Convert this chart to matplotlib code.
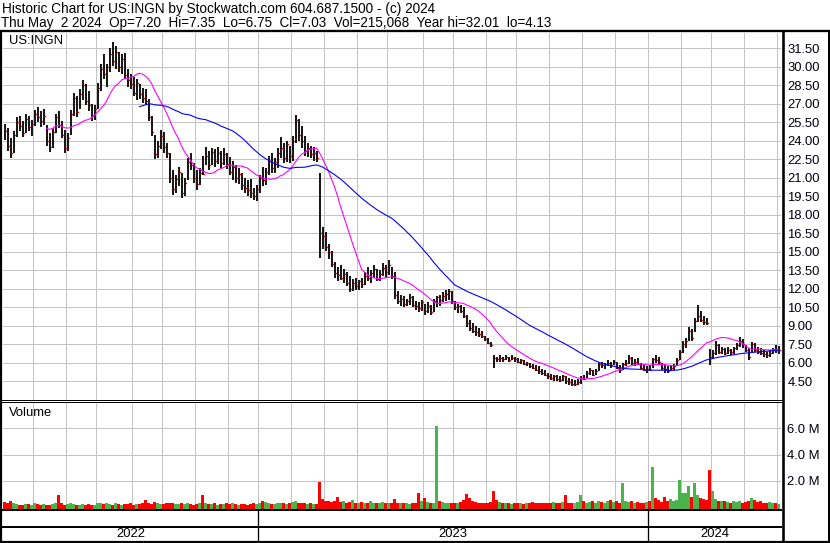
import matplotlib
matplotlib.use("Agg")
import matplotlib.pyplot as plt
import numpy as np
import pandas as pd
from matplotlib.lines import Line2D

plt.rcParams['font.family'] = ['Liberation Sans', 'DejaVu Sans']

W, H, DPI = 830, 543, 100

title_line1 = "Historic Chart for US:INGN by Stockwatch.com 604.687.1500 - (c) 2024"
title_line2 = "Thu May  2 2024  Op=7.20  Hi=7.35  Lo=6.75  Cl=7.03  Vol=215,068  Year hi=32.01  lo=4.13"
symbol = "US:INGN"
volume_label = "Volume"

# ---- data (one bar per ~trading period) ----
high = [
    25.4, 25.0, 24.2, 24.8, 25.9, 26.0, 25.6, 26.2, 26.0, 25.7,
    26.5, 26.7, 26.4, 26.6, 25.3, 24.6, 25.0, 26.2, 26.4, 25.6,
    24.9, 24.6, 26.5, 27.9, 27.6, 28.2, 28.9, 28.6, 28.0, 27.0,
    26.9, 28.7, 30.2, 31.0, 30.2, 31.5, 32.0, 31.7, 31.2, 31.0,
    31.1, 29.8, 29.4, 29.2, 29.0, 28.6, 28.3, 28.2, 27.4, 26.0,
    24.5, 24.0, 24.9, 24.7, 23.8, 23.0, 21.6, 21.2, 21.9, 21.4,
    21.0, 22.6, 23.0, 22.2, 21.6, 21.8, 22.8, 23.5, 23.2, 23.4,
    23.3, 23.5, 23.2, 23.4, 23.0, 22.7, 22.4, 22.0, 21.8, 21.4,
    21.0, 20.8, 20.9, 20.2, 20.4, 21.2, 21.9, 21.8, 22.8, 23.0,
    22.6, 23.4, 24.3, 23.8, 24.0, 23.6, 24.4, 26.1, 25.8, 25.2,
    24.4, 23.8, 23.6, 23.5, 23.2, 21.4, 17.0, 16.6, 15.6, 15.1,
    14.2, 13.8, 13.9, 13.6, 13.4, 13.0, 12.8, 12.9, 12.7, 12.9,
    13.4, 13.8, 13.5, 13.9, 13.6, 13.5, 14.1, 13.9, 14.3, 13.8,
    13.4, 11.8, 11.5, 11.4, 11.2, 11.6, 11.4, 11.0, 10.9, 11.1,
    10.8, 10.9, 10.7, 11.2, 11.4, 11.5, 11.7, 11.9, 12.0, 11.8,
    11.0, 10.8, 10.7, 10.5, 9.9, 9.5, 9.2, 9.0, 8.8, 8.6,
    8.2, 8.0, 7.7, 6.6, 6.5, 6.6, 6.5, 6.6, 6.5, 6.6,
    6.5, 6.4, 6.3, 6.2, 6.1, 6.0, 5.9, 5.8, 5.7, 5.5,
    5.4, 5.2, 5.1, 5.0, 5.0, 4.9, 5.0, 4.9, 4.8, 4.7,
    4.6, 4.7, 4.9, 5.0, 5.3, 5.6, 5.4, 5.5, 6.0, 6.1,
    6.0, 6.2, 6.1, 6.2, 6.1, 5.8, 6.0, 6.2, 6.6, 6.5,
    6.3, 6.4, 6.0, 5.8, 5.7, 5.8, 6.4, 6.6, 6.5, 6.0,
    5.8, 5.7, 5.8, 5.9, 6.4, 7.0, 7.8, 8.0, 8.9, 8.7,
    9.6, 10.7, 10.2, 9.8, 9.6, 7.1, 7.0, 7.8, 7.5, 7.3,
    7.2, 7.3, 7.1, 7.3, 7.6, 8.1, 7.9, 7.4, 7.2, 7.7,
    7.6, 7.3, 7.2, 7.0, 6.9, 7.0, 7.2, 7.4, 7.35,
]
low = [
    24.1, 23.2, 22.6, 23.0, 24.3, 24.8, 24.3, 24.6, 24.8, 24.4,
    25.2, 25.5, 25.1, 25.3, 23.6, 23.1, 23.4, 24.6, 25.0, 24.2,
    23.0, 23.2, 24.5, 26.0, 25.9, 26.6, 27.3, 26.9, 26.4, 25.6,
    25.7, 26.6, 28.0, 29.0, 28.4, 29.6, 30.1, 29.8, 29.6, 29.4,
    29.0, 28.4, 28.2, 27.6, 27.3, 27.4, 27.1, 26.9, 25.6, 24.4,
    22.5, 22.6, 23.3, 23.0, 22.6, 20.6, 19.6, 19.8, 20.3, 19.4,
    19.5, 20.8, 21.6, 20.6, 20.0, 20.4, 21.2, 22.0, 21.6, 22.0,
    21.9, 22.1, 21.8, 22.0, 21.7, 21.2, 20.8, 20.6, 20.5, 20.0,
    19.8, 19.5, 19.4, 19.2, 19.1, 19.8, 20.3, 20.4, 21.2, 21.4,
    21.4, 21.8, 22.6, 22.2, 22.3, 22.2, 22.4, 23.8, 24.0, 23.4,
    22.8, 22.7, 22.6, 22.4, 22.3, 14.5, 15.2, 15.1, 14.4, 13.8,
    12.9, 12.6, 12.7, 12.5, 12.2, 11.7, 11.8, 11.9, 11.9, 12.1,
    12.3, 12.6, 12.5, 12.9, 12.6, 12.6, 13.0, 12.9, 13.1, 12.8,
    11.2, 10.8, 10.6, 10.5, 10.6, 10.7, 10.5, 10.3, 10.1, 10.2,
    9.9, 10.0, 9.9, 10.1, 10.5, 10.6, 10.9, 11.0, 11.1, 10.8,
    10.3, 10.0, 10.0, 9.6, 8.9, 8.6, 8.4, 8.2, 8.1, 8.0,
    7.8, 7.5, 7.3, 5.6, 6.1, 6.1, 6.1, 6.2, 6.1, 6.2,
    6.1, 6.0, 5.9, 5.8, 5.7, 5.6, 5.5, 5.3, 5.1, 5.0,
    4.9, 4.7, 4.6, 4.5, 4.5, 4.4, 4.5, 4.3, 4.2, 4.13,
    4.15, 4.2, 4.3, 4.6, 4.8, 5.0, 4.9, 5.0, 5.3, 5.6,
    5.5, 5.7, 5.6, 5.8, 5.5, 5.2, 5.4, 5.7, 5.9, 5.8,
    5.7, 5.8, 5.5, 5.3, 5.2, 5.3, 5.6, 6.0, 5.9, 5.4,
    5.2, 5.2, 5.3, 5.4, 5.7, 6.2, 6.8, 7.2, 7.8, 7.8,
    8.5, 9.3, 9.3, 9.1, 9.1, 5.8, 6.3, 6.6, 6.7, 6.7,
    6.6, 6.7, 6.6, 6.7, 7.0, 7.3, 7.2, 6.9, 6.2, 6.9,
    6.9, 6.7, 6.6, 6.5, 6.4, 6.5, 6.7, 6.8, 6.75,
]
close = [
    24.8, 23.6, 23.0, 24.5, 25.5, 25.2, 24.6, 25.8, 25.1, 25.4,
    26.2, 25.9, 25.6, 26.0, 24.0, 23.5, 24.7, 25.9, 25.3, 24.5,
    23.4, 24.2, 26.2, 27.5, 26.3, 27.8, 28.5, 27.2, 26.9, 26.1,
    26.6, 28.3, 29.8, 29.4, 30.0, 31.0, 30.5, 31.2, 30.0, 30.6,
    29.3, 28.9, 28.6, 27.9, 28.7, 27.8, 27.5, 27.2, 25.9, 24.7,
    22.9, 23.6, 24.4, 23.5, 23.0, 21.0, 20.1, 20.9, 21.5, 19.8,
    20.6, 22.3, 22.0, 21.0, 20.5, 21.4, 21.3, 22.8, 22.0, 23.1,
    22.4, 23.0, 22.2, 22.9, 22.1, 21.5, 21.9, 21.0, 21.3, 20.4,
    20.2, 20.0, 19.8, 19.5, 20.1, 21.0, 20.8, 21.5, 22.4, 21.8,
    22.3, 23.0, 23.4, 22.6, 23.7, 22.8, 24.0, 25.7, 24.5, 24.0,
    23.2, 23.4, 22.9, 23.0, 22.6, 16.5, 16.3, 15.4, 15.0, 14.0,
    13.3, 13.1, 12.9, 13.2, 12.5, 12.0, 12.5, 12.2, 12.6, 12.4,
    13.0, 12.9, 13.3, 13.6, 12.8, 13.2, 13.7, 13.4, 13.9, 13.0,
    11.5, 11.0, 11.2, 10.8, 11.0, 11.3, 10.7, 10.6, 10.4, 10.9,
    10.2, 10.6, 10.1, 11.0, 11.3, 11.1, 11.4, 11.6, 11.8, 11.0,
    10.5, 10.6, 10.2, 9.8, 9.2, 8.8, 8.6, 8.5, 8.3, 8.2,
    7.9, 7.6, 7.4, 6.4, 6.3, 6.4, 6.3, 6.5, 6.2, 6.4,
    6.3, 6.1, 6.2, 5.9, 6.0, 5.7, 5.6, 5.4, 5.3, 5.2,
    5.0, 4.9, 4.8, 4.9, 4.7, 4.6, 4.9, 4.5, 4.4, 4.3,
    4.3, 4.4, 4.8, 4.7, 5.2, 5.4, 5.0, 5.3, 5.9, 5.8,
    5.9, 6.0, 5.8, 6.1, 5.6, 5.4, 5.9, 6.0, 6.4, 6.0,
    6.1, 5.9, 5.6, 5.4, 5.5, 5.4, 6.3, 6.2, 6.1, 5.6,
    5.5, 5.3, 5.6, 5.7, 6.2, 6.9, 7.5, 7.8, 8.6, 8.0,
    9.4, 9.8, 9.5, 9.3, 9.2, 6.5, 6.8, 7.4, 6.9, 7.1,
    6.8, 7.0, 6.9, 7.2, 7.4, 7.8, 7.5, 7.0, 6.5, 7.5,
    7.0, 6.9, 6.8, 6.7, 6.6, 6.8, 7.1, 7.0, 7.03,
]
volume_m = [
    0.40, 0.35, 0.45, 0.30, 0.25, 0.20, 0.18, 0.22, 0.25, 0.20,
    0.30, 0.25, 0.20, 0.25, 0.20, 0.18, 0.22, 0.30, 0.95, 0.28,
    0.20, 0.25, 0.35, 0.22, 0.18, 0.20, 0.25, 0.20, 0.22, 0.18,
    0.20, 0.35, 0.30, 0.25, 0.28, 0.22, 0.20, 0.30, 0.25, 0.20,
    0.22, 0.25, 0.30, 0.20, 0.22, 0.25, 0.28, 0.55, 0.30, 0.25,
    0.40, 0.30, 0.25, 0.22, 0.28, 0.30, 0.35, 0.25, 0.22, 0.30,
    0.25, 0.30, 0.22, 0.20, 0.25, 0.30, 0.95, 0.35, 0.25, 0.22,
    0.28, 0.20, 0.22, 0.25, 0.30, 0.22, 0.35, 0.25, 0.20, 0.22,
    0.25, 0.20, 0.22, 0.28, 0.25, 0.30, 0.45, 0.40, 0.30, 0.25,
    0.22, 0.30, 0.35, 0.28, 0.25, 0.30, 0.40, 0.45, 0.35, 0.30,
    0.28, 0.25, 0.30, 0.22, 0.25, 1.95, 0.60, 0.45, 0.50, 0.40,
    0.45, 0.80, 0.40, 0.50, 0.35, 0.40, 0.55, 0.35, 0.30, 0.40,
    0.35, 0.30, 0.50, 0.35, 0.30, 0.28, 0.40, 0.30, 0.35, 0.30,
    0.60, 0.35, 0.30, 0.28, 0.30, 0.25, 0.30, 0.28, 1.10, 0.45,
    0.70, 0.40, 0.30, 0.35, 6.20, 0.50, 0.40, 0.35, 0.30, 0.28,
    0.30, 0.35, 0.40, 0.55, 1.00, 0.70, 0.45, 0.40, 0.30, 0.35,
    0.30, 0.35, 0.40, 1.20, 0.55, 0.40, 0.30, 0.28, 0.30, 0.25,
    0.35, 0.30, 0.28, 0.25, 0.30, 0.35, 0.40, 0.30, 0.35, 0.30,
    0.28, 0.35, 0.30, 0.40, 0.35, 0.30, 0.40, 0.90, 0.35, 0.30,
    0.35, 0.40, 0.90, 0.45, 0.35, 0.40, 0.50, 0.35, 0.45, 0.40,
    0.35, 0.50, 0.55, 0.40, 0.45, 0.35, 1.85, 0.50, 0.40, 0.45,
    0.35, 0.40, 0.30, 0.35, 0.40, 0.45, 3.05, 0.70, 0.55, 0.40,
    0.80, 0.50, 0.60, 0.45, 0.55, 2.10, 1.10, 1.10, 1.60, 0.80,
    1.80, 0.90, 0.70, 0.60, 0.55, 2.85, 1.20, 0.60, 0.50, 0.45,
    0.50, 0.40, 0.35, 0.45, 0.40, 0.50, 0.35, 0.40, 0.45, 0.70,
    0.55, 0.40, 0.45, 0.35, 0.30, 0.40, 0.35, 0.30, 0.22,
]
# first bar index of each month (grid lines), and of each year
month_first_bar = [10, 21, 31, 43, 53, 64, 75, 85, 96, 107, 118, 128,
                   140, 150, 161, 171, 182, 193, 204, 215, 226, 236, 247, 258]
years = ["2022", "2023", "2024"]
year_first_bar = [0, 85, 215]
price_ticks = [4.5, 6.0, 7.5, 9.0, 10.5, 12.0, 13.5, 15.0, 16.5, 18.0, 19.5,
               21.0, 22.5, 24.0, 25.5, 27.0, 28.5, 30.0, 31.5]
volume_ticks_m = [2.0, 4.0, 6.0]
ma_short, ma_long = 15, 46

# ---- figure ----
fig = plt.figure(figsize=(W / DPI, H / DPI), dpi=DPI)
fig.patch.set_facecolor('white')
PT = 72.0 / DPI  # points per pixel
FS = 13 * PT


def fx(px):
    return px / W


def fy(py):
    return 1 - py / H


n = len(close)
x = np.arange(n)
XL = (-0.5, -0.5 + 778 / 3.0)
GRID = '#c4c4c4'

ax = fig.add_axes([fx(3), fy(400), fx(781) - fx(3), fy(33) - fy(400)])
axv = fig.add_axes([fx(3), fy(509.5), fx(781) - fx(3), fy(403) - fy(509.5)])
axy = fig.add_axes([fx(3), fy(541), fx(781) - fx(3), fy(511) - fy(541)])

for a in (ax, axv, axy):
    a.set_xlim(*XL)
    for s in a.spines.values():
        s.set_visible(False)
    a.set_xticks([])
    a.set_facecolor('white')

vgrid = [m - 0.5 for m in month_first_bar]

# price panel
ax.set_ylim(2.98, 32.74)
ax.hlines(price_ticks, XL[0], XL[1], colors=GRID, lw=1.0 * PT, zorder=1, antialiased=False)
ax.vlines(vgrid, 2.98, 32.74, colors=GRID, lw=1.0 * PT, zorder=1, antialiased=False)
ax.vlines(x, low, high, color='black', lw=1.8 * PT, zorder=2)
ax.plot(x + 0.35, close, ls='none', marker='s', ms=1.4 * PT, mew=0,
        color='#ff0000', zorder=3)
cs = pd.Series(close)
ax.plot(x, cs.rolling(ma_short).mean(), color='#ff00ff', lw=1.1 * PT, zorder=4)
ax.plot(x, cs.rolling(ma_long).mean(), color='#0000ff', lw=1.1 * PT, zorder=4)
ax.yaxis.tick_right()
ax.set_yticks(price_ticks)
ax.set_yticklabels([f"{t:.2f}" for t in price_ticks])
ax.tick_params(axis='y', length=0, pad=6.5 * PT, labelsize=FS, labelcolor='#000010')

# volume panel
vb = -0.18
axv.set_ylim(vb, 7.93)
axv.hlines(volume_ticks_m, XL[0], XL[1], colors=GRID, lw=1.0 * PT, zorder=1, antialiased=False)
axv.vlines(vgrid, vb, 7.93, colors=GRID, lw=1.0 * PT, zorder=1, antialiased=False)
cols = []
for i in range(n):
    if i == 0 or close[i] < close[i - 1]:
        cols.append('#ff0000')
    elif close[i] > close[i - 1]:
        cols.append('#4cb34c')
    else:
        cols.append('#a0a0a0')
vol = np.array(volume_m)
axv.bar(x, vol - vb, bottom=vb, width=0.9, color=cols, linewidth=0, zorder=2)
axv.yaxis.tick_right()
axv.set_yticks(volume_ticks_m)
axv.set_yticklabels([f"{t:.1f} M" for t in volume_ticks_m])
axv.tick_params(axis='y', length=0, pad=5.5 * PT, labelsize=FS, labelcolor='#000010')

# year strip
axy.set_ylim(0, 2)
axy.set_yticks([])
bounds = [b - 0.5 for b in year_first_bar] + [XL[1]]
for b in bounds[1:-1]:
    axy.axvline(b, color='black', lw=1.3 * PT)
for k, yr in enumerate(years):
    axy.text((max(bounds[k], XL[0]) + bounds[k + 1]) / 2, 0.47, yr,
             ha='center', va='center', fontsize=FS)


# frame lines
def hline(y, x0, x1, w):
    fig.add_artist(Line2D([fx(x0), fx(x1)], [fy(y), fy(y)], transform=fig.transFigure,
                          color='black', lw=w * PT, solid_capstyle='butt'))


def vline(xp, y0, y1, w):
    fig.add_artist(Line2D([fx(xp), fx(xp)], [fy(y0), fy(y1)], transform=fig.transFigure,
                          color='black', lw=w * PT, solid_capstyle='butt'))


hline(30.5, 0, 830, 2.3)
vline(1.0, 29.5, 543, 2.2)
vline(782.5, 29.5, 543, 2.6)
vline(829.0, 29.5, 543, 2.0)
hline(400.2, 0, 782, 1.0)
hline(402.2, 0, 782, 1.0)
hline(510.3, 0, 782, 2.0)
hline(526.7, 0, 782, 2.0)
hline(541.8, 0, 830, 2.2)

# texts (header sized to match the original's rendered widths)
t1 = fig.text(fx(1.5), fy(13.5), title_line1, ha='left', va='baseline', fontsize=FS)
t2 = fig.text(fx(1.0), fy(27.5), title_line2, ha='left', va='baseline', fontsize=FS)
fig.canvas.draw()
r = fig.canvas.get_renderer()
w1 = t1.get_window_extent(r).width
t1.set_fontsize(FS * 432.0 / w1)
pre = title_line2.split("  Year")[0]
tp = fig.text(0, 0, pre, fontsize=FS)
wp = tp.get_window_extent(r).width
tp.remove()
t2.set_fontsize(FS * 410.0 / wp)

fig.text(fx(9), fy(41), symbol, ha='left', va='center', fontsize=FS)
fig.text(fx(9), fy(413), volume_label, ha='left', va='center', fontsize=FS)

fig.savefig("out.png", dpi=DPI, facecolor='white')
